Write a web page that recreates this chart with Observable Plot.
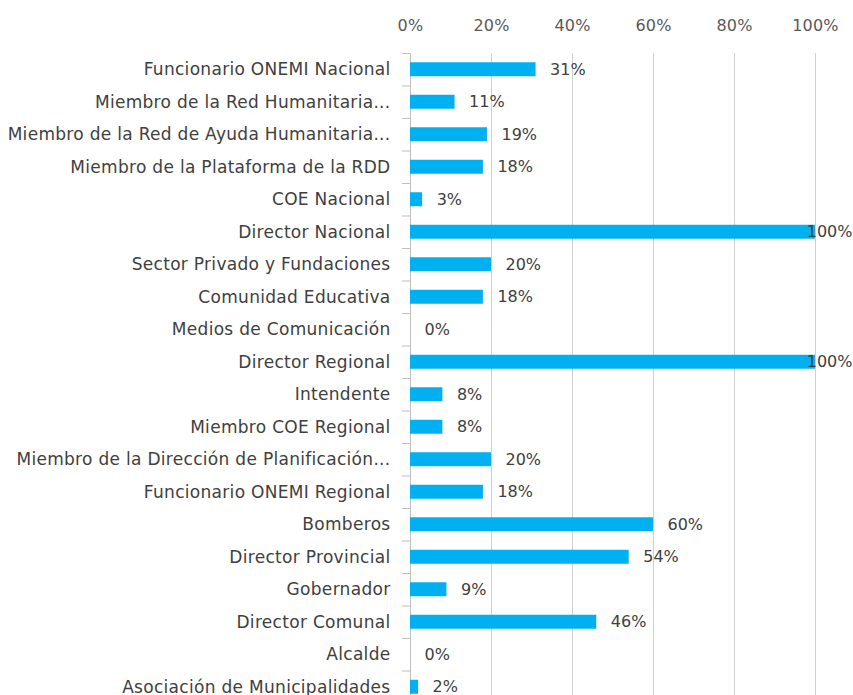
<!DOCTYPE html>
<html>
<head>
<meta charset="utf-8">
<script src="https://cdn.jsdelivr.net/npm/d3@7"></script>
<script src="https://cdn.jsdelivr.net/npm/@observablehq/plot@0.6"></script>
<style>
  html, body { margin: 0; padding: 0; background: #fff; overflow: hidden; }
  #chart svg { display: block; }
  #chart [aria-label="y-axis tick label"] { letter-spacing: 0.3px; }
  #chart [aria-label="x-axis tick label"] { letter-spacing: 0.2px; }
</style>
</head>
<body>
<div id="chart"></div>
<script>
const categories = [
  "Funcionario ONEMI Nacional",
  "Miembro de la Red Humanitaria...",
  "Miembro de la Red de Ayuda Humanitaria...",
  "Miembro de la Plataforma de la RDD",
  "COE Nacional",
  "Director Nacional",
  "Sector Privado y Fundaciones",
  "Comunidad Educativa",
  "Medios de Comunicación",
  "Director Regional",
  "Intendente",
  "Miembro COE Regional",
  "Miembro de la Dirección de Planificación...",
  "Funcionario ONEMI Regional",
  "Bomberos",
  "Director Provincial",
  "Gobernador",
  "Director Comunal",
  "Alcalde",
  "Asociación de Municipalidades"
];
const values = [31, 11, 19, 18, 3, 100, 20, 18, 0, 100, 8, 8, 20, 18, 60, 54, 9, 46, 0, 2];
const xTicks = [0, 0.2, 0.4, 0.6, 0.8, 1];

const data = categories.map((c, i) => ({category: c, value: values[i] / 100}));
const pct = d3.format(".0%");
const FONT = "'DejaVu Sans', sans-serif";
const step = 32.5;

const chart = Plot.plot({
  width: 853,
  height: 703,
  marginTop: 53,
  marginLeft: 410,
  marginRight: 38,
  marginBottom: 0,
  style: {fontFamily: FONT, background: "#fff"},
  x: {domain: [0, 1], label: null},
  y: {domain: categories, paddingInner: 0.57, paddingOuter: 0.285, round: false, label: null},
  marks: [
    Plot.gridX(xTicks.slice(1), {stroke: "#d0d0d0", strokeOpacity: 1}),
    Plot.axisX(xTicks, {anchor: "top", tickSize: 0, tickPadding: 23, tickFormat: pct, fontSize: 16, fill: "#595959", label: null}),
    Plot.axisY(categories, {anchor: "left", tickSize: 8, text: null, dy: -step / 2, stroke: "#bfbfbf", label: null}),
    Plot.axisY(categories, {anchor: "left", tickSize: 0, tickPadding: 20, fontSize: 17, fill: "#404040", label: null}),
    Plot.ruleX([0], {stroke: "#bfbfbf"}),
    Plot.barX(data, {x: "value", y: "category", fill: "#00B0F0"}),
    Plot.text(data.filter(d => d.value < 0.95), {x: "value", y: "category", text: d => pct(d.value), textAnchor: "start", dx: 14, fontSize: 16, fill: "#404040"}),
    Plot.text(data.filter(d => d.value >= 0.95), {x: "value", y: "category", text: d => pct(d.value), textAnchor: "end", dx: 37, fontSize: 16, fill: "#404040"})
  ]
});
document.getElementById("chart").appendChild(chart);
</script>
</body>
</html>
